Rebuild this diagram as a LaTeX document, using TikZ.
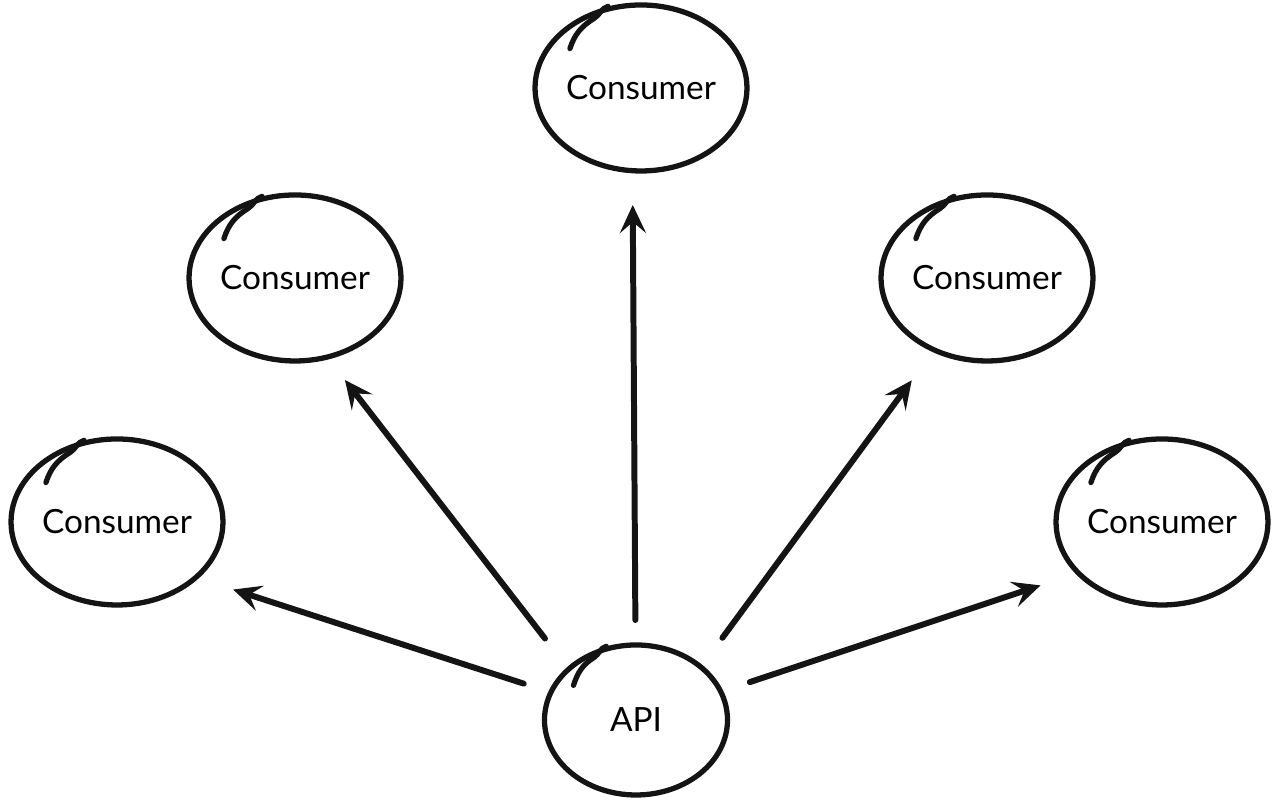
\documentclass[tikz,border=0pt]{standalone}
\usepackage{fontspec}
\setmainfont{Lato}
\usetikzlibrary{arrows.meta, positioning, calc, shapes.geometric}
\definecolor{InkBlack}{RGB}{20, 20, 20}

\begin{document}
\begin{tikzpicture}[
    blob/.style={ellipse, draw=InkBlack, line width=1.5pt, minimum width=2.1cm, minimum height=1.66cm, inner sep=0pt, font=\fontsize{9.5}{11}\selectfont},
    apiblob/.style={blob, minimum width=1.83cm, minimum height=1.5cm},
    tail/.style={draw=InkBlack, line width=1.5pt, line cap=round},
    flow/.style={-{Stealth[length=2.8mm, width=2.6mm, inset=1.1mm]}, draw=InkBlack, line width=1.7pt, line cap=round}
  ]
  \useasboundingbox (0,0) rectangle (12.78,8.01);
  % the API in the middle, consumers round it
  \node[apiblob] (api) at (6.36,0.81) {API};
  \node[blob] (cT) at (6.41,7.13) {Consumer};
  \node[blob] (cML) at (2.95,5.23) {Consumer};
  \node[blob] (cMR) at (9.87,5.23) {Consumer};
  \node[blob] (cBL) at (1.17,2.79) {Consumer};
  \node[blob] (cBR) at (11.62,2.79) {Consumer};
  % pen overlap where each circle was started
  \foreach \n in {api, cT, cML, cMR, cBL, cBR} {
    \draw[tail] ($(\n.center)!0.8!(\n.151)$) to[out=72, in=212] ($(\n.center)!0.92!(\n.124)$) to[out=32, in=195] (\n.112);
  }
  % arrows out of the API
  \draw[flow, shorten <=1.18cm, shorten >=1.22cm] (api.center) -- ($(cBL)+(0,-0.3)$);
  \draw[flow, shorten <=1.03cm, shorten >=1.29cm] ($(api)+(-0.28,0)$) -- ($(cML)+(-0.29,0)$);
  \draw[flow, shorten <=1.0cm, shorten >=1.17cm] (api.center) -- ($(cT)+(-0.09,0)$);
  \draw[flow, shorten <=1.02cm, shorten >=1.27cm] ($(api)+(0.26,0)$) -- (cMR.center);
  \draw[flow, shorten <=1.2cm, shorten >=1.28cm] (api.center) -- ($(cBR)+(0,-0.23)$);
\end{tikzpicture}
\end{document}
